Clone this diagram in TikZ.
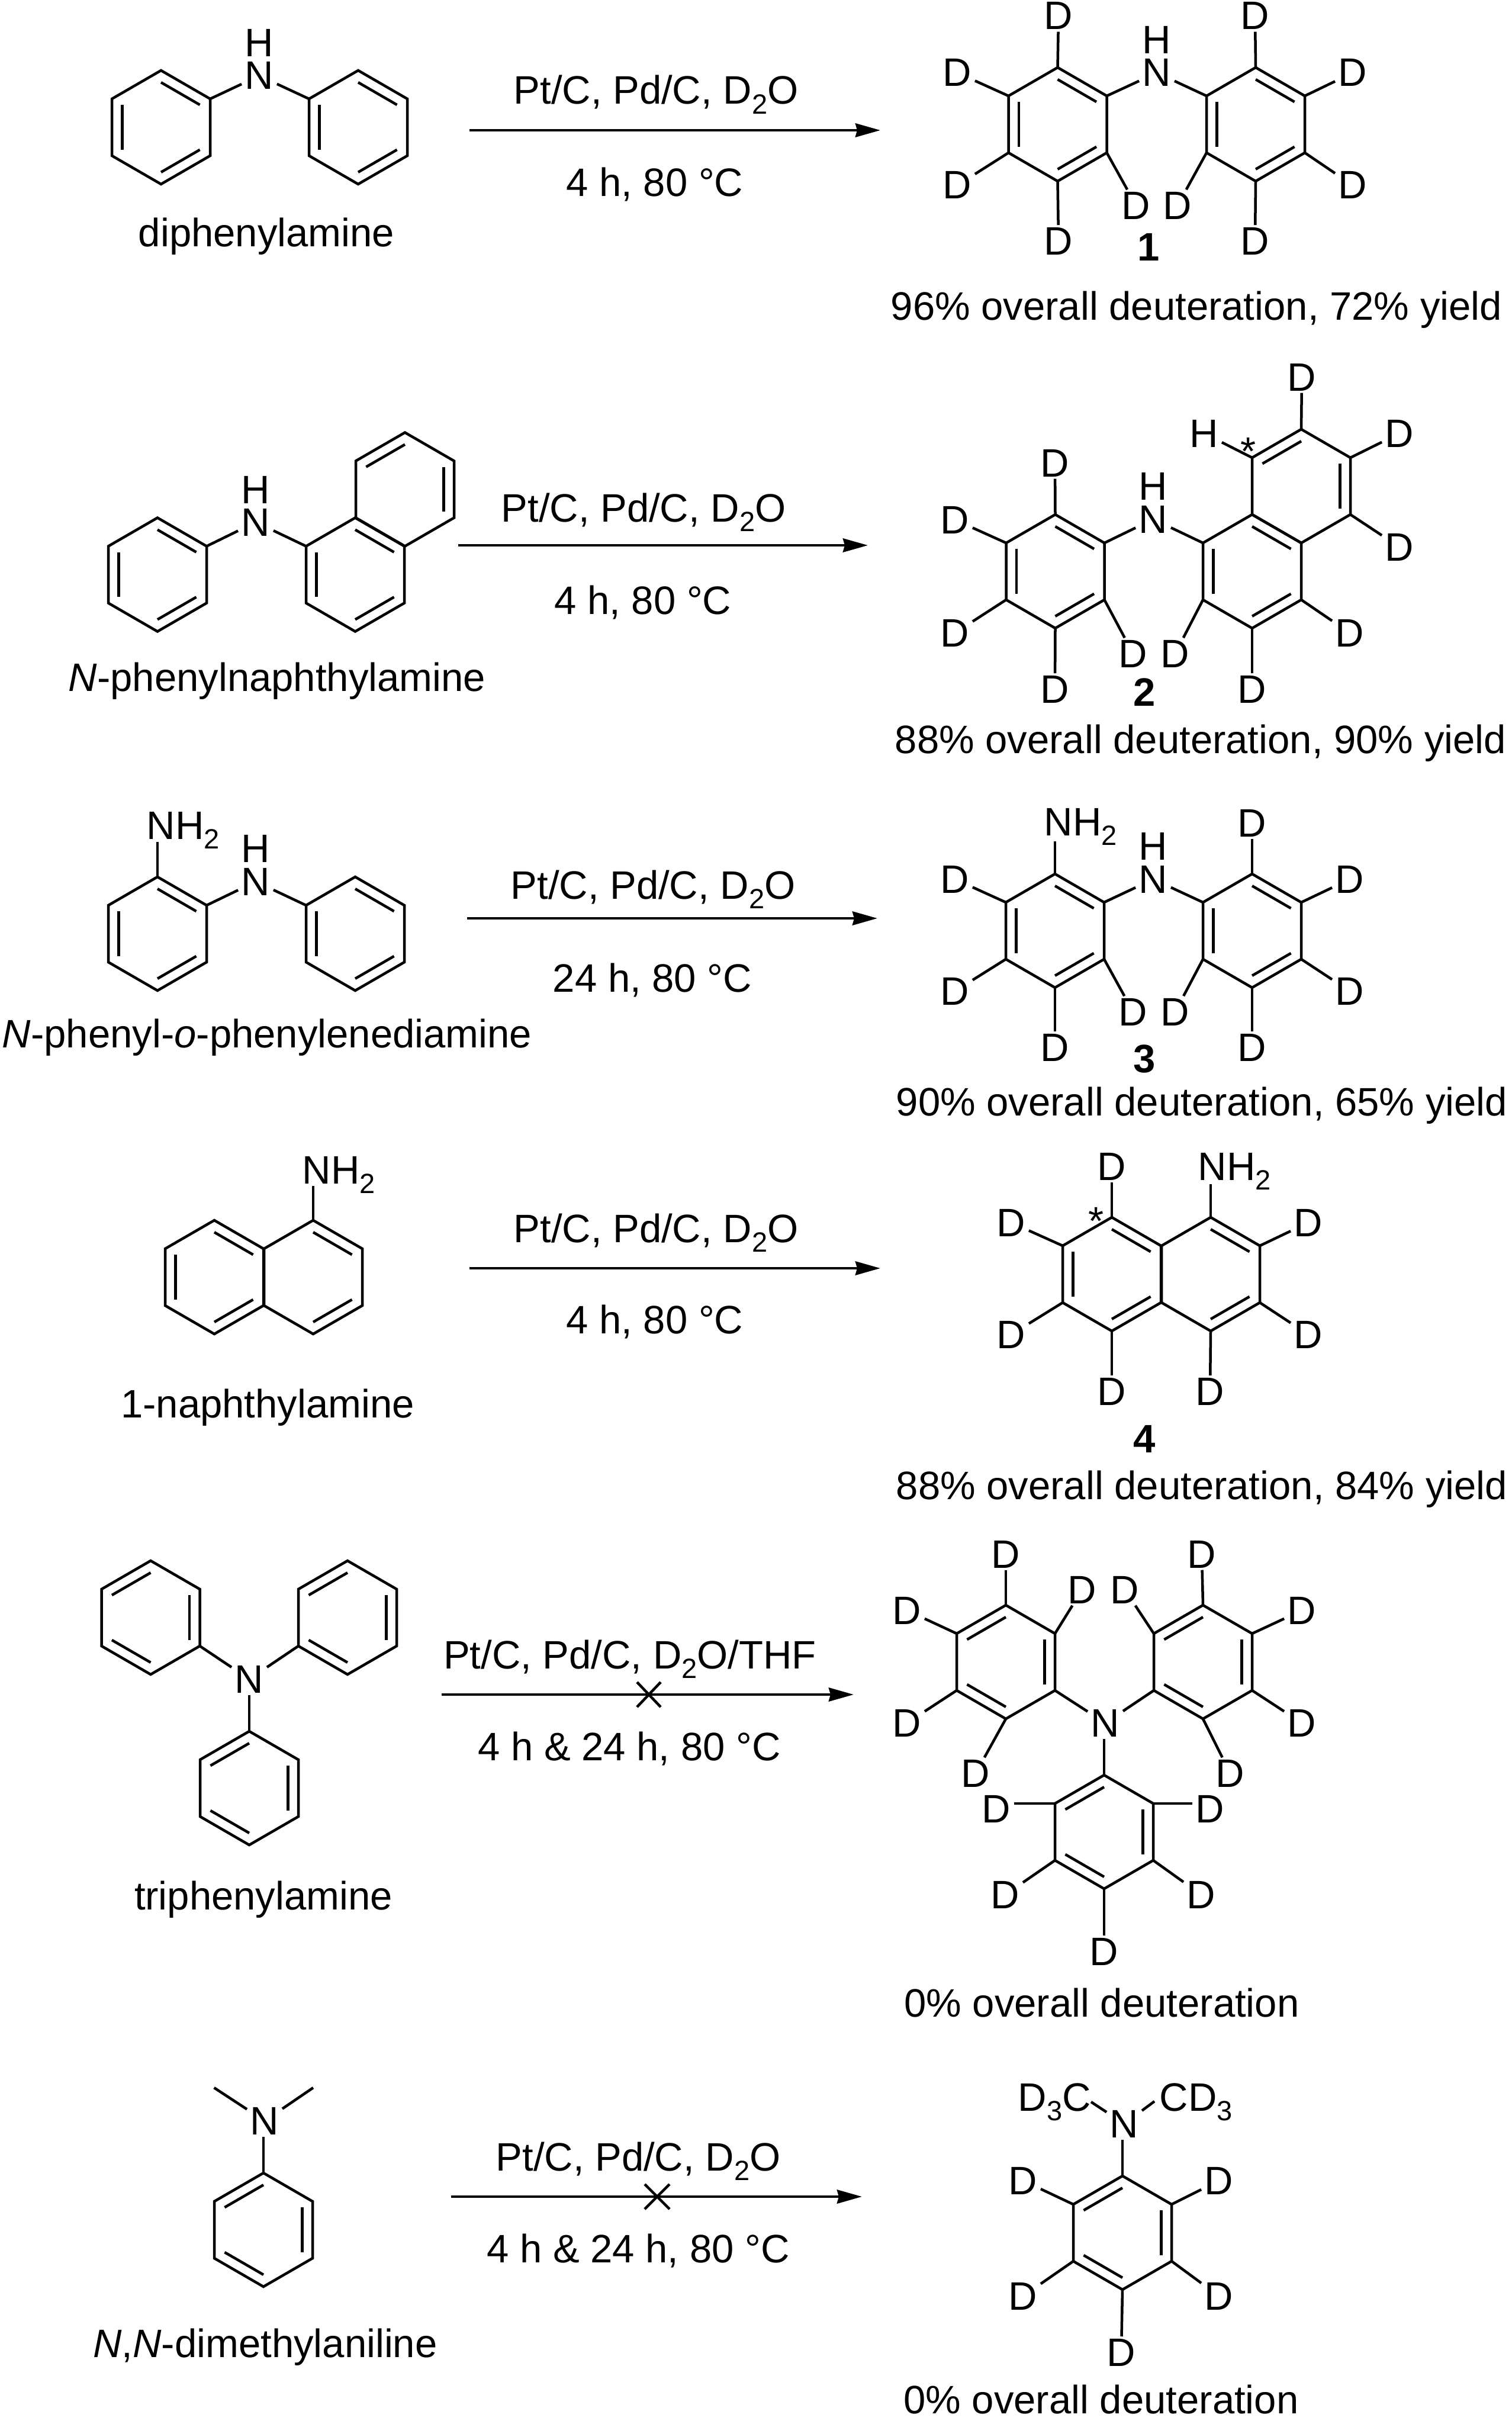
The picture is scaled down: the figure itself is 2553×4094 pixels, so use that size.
\documentclass[tikz,border=0pt]{standalone}
\usepackage{fontspec}
\setmainfont{Liberation Sans}
\usetikzlibrary{calc,arrows.meta}
\newcommand{\sbs}[1]{\raisebox{-0.16cm}{\fontsize{0.47cm}{0.5cm}\selectfont #1}\fontsize{0.67cm}{0.8cm}\selectfont}
\tikzset{
  x=0.01cm,y=-0.01cm,
  bond/.style={line width=0.045cm,line join=miter,line cap=butt,black},
  rxn/.style={line width=0.048cm,-{Stealth[length=0.42cm,width=0.23cm,inset=0.03cm]}},
  cross/.style={line width=0.045cm},
  txt/.style={anchor=base,inner sep=0pt,font=\fontsize{0.67cm}{0.8cm}\selectfont},
  txtw/.style={anchor=base west,inner sep=0pt,font=\fontsize{0.67cm}{0.8cm}\selectfont},
  atom/.style={anchor=base,inner xsep=0.05cm,inner ysep=0.03cm,font=\fontsize{0.67cm}{0.8cm}\selectfont},
}
% ring: name, cx, cy, list of double bonds
\newcommand{\ringat}[4]{%
  \coordinate (#1c) at (#2,#3);
  \coordinate (#11) at ($(#1c)+(0,-96)$);
  \coordinate (#12) at ($(#1c)+(83,-48)$);
  \coordinate (#13) at ($(#1c)+(83,48)$);
  \coordinate (#14) at ($(#1c)+(0,96)$);
  \coordinate (#15) at ($(#1c)+(-83,48)$);
  \coordinate (#16) at ($(#1c)+(-83,-48)$);
  \draw[bond] (#11)--(#12)--(#13)--(#14)--(#15)--(#16)--cycle;
  \foreach \p/\q in {#4}{\draw[bond] ($(#1\p)!0.21!(#1c)$) -- ($(#1\q)!0.21!(#1c)$);}
}
% substituent D on a ring vertex: vertex, x, baseline y
\newcommand{\subD}[3]{%
  \node[atom] (#1D) at (#2,#3) {D};
  \draw[bond] (#1) -- (#1D);
}
\begin{document}
\begin{tikzpicture}
\useasboundingbox (0,0) rectangle (2553,4094);
\fill[white] (0,0) rectangle (2553,4094);

% ---------- Row 1 ----------
\ringat{A}{272}{215}{1/2,3/4,5/6}
\ringat{B}{605}{215}{1/2,3/4,5/6}
\node[atom] (Na) at (438,151) {N};
\node[atom] (Ha) at (438,96) {H};
\draw[bond] (A2)--(Na);
\draw[bond] (B6)--(Na);
\node[txt] (name1) at (450,417) {diphenylamine};
\coordinate (r1s) at (793,220);
\coordinate (r1e) at (1487,220);
\draw[rxn] (r1s)--(r1e);
\node[txt] (r1t) at (1108,176) {Pt/C, Pd/C, D\sbs{2}O};
\node[txt] (r1b) at (1106,332) {4 h, 80 °C};
\ringat{C}{1786.5}{210}{1/2,3/4,5/6}
\ringat{D}{2121}{210}{1/2,3/4,5/6}
\node[atom] (Nb) at (1954,146) {N};
\node[atom] (Hb) at (1954,91) {H};
\draw[bond] (C2)--(Nb);
\draw[bond] (D6)--(Nb);
\subD{C1}{1788}{50}
\subD{C6}{1617}{146}
\subD{C5}{1617}{336}
\subD{C4}{1788}{430}
\subD{C3}{1919}{370}
\subD{D5}{1989}{370}
\subD{D1}{2120}{50}
\subD{D2}{2285}{146}
\subD{D3}{2285}{336}
\subD{D4}{2120}{430}
\node[txt] (cmp1) at (1940,441) {\textbf{1}};
\node[txt] (res1) at (2021,541) {96\% overall deuteration, 72\% yield};

% ---------- Row 2 ----------
\ringat{E}{266}{970.5}{1/2,3/4,5/6}
\ringat{F}{600}{970.5}{1/2,3/4,5/6}
\ringat{G}{684}{826.5}{6/1,2/3}
\node[atom] (Nc) at (432,905) {N};
\node[atom] (Hc) at (432,850) {H};
\draw[bond] (E2)--(Nc);
\draw[bond] (F6)--(Nc);
\node[txt] (name2) at (468,1167) {\textit{N}-phenylnaphthylamine};
\coordinate (r2s) at (774,921);
\coordinate (r2e) at (1466,921);
\draw[rxn] (r2s)--(r2e);
\node[txt] (r2t) at (1087,881) {Pt/C, Pd/C, D\sbs{2}O};
\node[txt] (r2b) at (1086,1037) {4 h, 80 °C};
\ringat{H}{1782.5}{965}{1/2,3/4,5/6}
\ringat{I}{2115}{965}{1/2,3/4,5/6}
\ringat{J}{2198}{821}{6/1,2/3}
\node[atom] (Nd) at (1948,900) {N};
\node[atom] (Hd) at (1948,844) {H};
\draw[bond] (H2)--(Nd);
\draw[bond] (I6)--(Nd);
\subD{H1}{1782}{805}
\subD{H6}{1613}{901}
\subD{H5}{1613}{1092}
\subD{H4}{1782}{1187}
\subD{H3}{1914}{1127}
\subD{I5}{1985}{1127}
\subD{I4}{2115}{1187}
\subD{I3}{2280}{1092}
\subD{J3}{2364}{947}
\subD{J2}{2364}{755}
\subD{J1}{2199}{660}
\node[atom] (J6H) at (2034,755) {H};
\draw[bond] (J6)--(J6H);
\node[txt] (stara) at (2109,785) {*};
\node[txt] (cmp2) at (1933,1192) {\textbf{2}};
\node[txt] (res2) at (2028,1272) {88\% overall deuteration, 90\% yield};

% ---------- Row 3 ----------
\ringat{K}{266}{1577}{1/2,3/4,5/6}
\ringat{L}{600}{1577}{1/2,3/4,5/6}
\node[atom] (Ne) at (432,1512) {N};
\node[atom] (He) at (432,1456) {H};
\draw[bond] (K2)--(Ne);
\draw[bond] (L6)--(Ne);
\node[txtw] (nh2a) at (247,1417) {NH\sbs{2}};
\coordinate (nh2ae) at (266,1422);
\draw[bond] (K1)--(nh2ae);
\node[txt] (name3) at (451,1769) {\textit{N}-phenyl-\textit{o}-phenylenediamine};
\coordinate (r3s) at (789,1551);
\coordinate (r3e) at (1482,1551);
\draw[rxn] (r3s)--(r3e);
\node[txt] (r3t) at (1103,1518) {Pt/C, Pd/C, D\sbs{2}O};
\node[txt] (r3b) at (1102,1675) {24 h, 80 °C};
\ringat{M}{1782}{1572}{1/2,3/4,5/6}
\ringat{P}{2115}{1572}{1/2,3/4,5/6}
\node[atom] (Nf) at (1948,1508) {N};
\node[atom] (Hf) at (1948,1452) {H};
\draw[bond] (M2)--(Nf);
\draw[bond] (P6)--(Nf);
\node[txtw] (nh2b) at (1763,1411) {NH\sbs{2}};
\coordinate (nh2be) at (1782,1421);
\draw[bond] (M1)--(nh2be);
\subD{M6}{1613}{1508}
\subD{M5}{1613}{1697}
\subD{M4}{1782}{1792}
\subD{M3}{1914}{1732}
\subD{P5}{1985}{1732}
\subD{P4}{2115}{1792}
\subD{P3}{2280}{1697}
\subD{P2}{2280}{1508}
\subD{P1}{2115}{1413}
\node[txt] (cmp3) at (1933,1811) {\textbf{3}};
\node[txt] (res3) at (2030,1884) {90\% overall deuteration, 65\% yield};

% ---------- Row 4 ----------
\ringat{Q}{362}{2157}{1/2,3/4,5/6}
\ringat{R}{529}{2157}{1/2,3/4}
\node[txtw] (nh2c) at (510,1999) {NH\sbs{2}};
\coordinate (nh2ce) at (529,2003);
\draw[bond] (R1)--(nh2ce);
\node[txt] (name4) at (452,2394) {1-naphthylamine};
\coordinate (r4s) at (793,2142);
\coordinate (r4e) at (1487,2142);
\draw[rxn] (r4s)--(r4e);
\node[txt] (r4t) at (1108,2098) {Pt/C, Pd/C, D\sbs{2}O};
\node[txt] (r4b) at (1106,2252) {4 h, 80 °C};
\ringat{S}{1878}{2152}{1/2,3/4,5/6}
\ringat{T}{2045}{2152}{1/2,3/4}
\node[txtw] (nh2d) at (2023,1993) {NH\sbs{2}};
\coordinate (nh2de) at (2045,2000);
\draw[bond] (T1)--(nh2de);
\subD{S1}{1878}{1993}
\subD{S6}{1708}{2088}
\subD{S5}{1708}{2277}
\subD{S4}{1878}{2373}
\subD{T4}{2044}{2373}
\subD{T3}{2210}{2277}
\subD{T2}{2210}{2088}
\node[txt] (starb) at (1852,2085) {*};
\node[txt] (cmp4) at (1933,2453) {\textbf{4}};
\node[txt] (res4) at (2030,2532) {88\% overall deuteration, 84\% yield};

% ---------- Row 5 ----------
\ringat{U}{254.5}{2732}{6/1,2/3,4/5}
\ringat{V}{587}{2732}{6/1,2/3,4/5}
\ringat{W}{421}{3020}{6/1,2/3,4/5}
\node[atom] (Ng) at (421,2859) {N};
\draw[bond] (U3)--(Ng);
\draw[bond] (V5)--(Ng);
\draw[bond] (W1)--(Ng);
\node[txt] (name5) at (445,3225) {triphenylamine};
\coordinate (r5s) at (746,2862);
\coordinate (r5e) at (1442,2862);
\draw[rxn] (r5s)--(r5e);
\coordinate (x5) at (1096,2862);
\draw[cross] ($(x5)+(-20,-21)$)--($(x5)+(20,21)$);
\draw[cross] ($(x5)+(20,-21)$)--($(x5)+(-20,21)$);
\node[txt] (r5t) at (1064,2818) {Pt/C, Pd/C, D\sbs{2}O/THF};
\node[txt] (r5b) at (1063,2973) {4 h \& 24 h, 80 °C};
\ringat{X}{1699}{2807}{6/1,2/3,4/5}
\ringat{Y}{2032}{2807}{6/1,2/3,4/5}
\ringat{Z}{1865}{3094}{6/1,2/3,4/5}
\node[atom] (Nh) at (1867,2933) {N};
\draw[bond] (X3)--(Nh);
\draw[bond] (Y5)--(Nh);
\draw[bond] (Z1)--(Z1 |- Nh.south);
\subD{X1}{1699}{2648}
\subD{X2}{1828}{2708}
\subD{X6}{1532}{2743}
\subD{X5}{1532}{2933}
\subD{X4}{1648}{3018}
\subD{Y1}{2030}{2648}
\subD{Y6}{1900}{2708}
\subD{Y2}{2199}{2743}
\subD{Y3}{2199}{2933}
\subD{Y4}{2078}{3018}
\node[atom] (Z6D) at (1683,3078) {D};
\draw[bond] (Z6)--(Z6D.east |- Z6);
\node[atom] (Z2D) at (2044,3078) {D};
\draw[bond] (Z2)--(Z2D.west |- Z2);
\subD{Z5}{1698}{3223}
\subD{Z3}{2029}{3223}
\subD{Z4}{1865}{3319}
\node[txt] (res5) at (1861,3406) {0\% overall deuteration};

% ---------- Row 6 ----------
\ringat{a}{445}{3766}{6/1,2/3,4/5}
\node[atom] (Ni) at (447,3605) {N};
\draw[bond] (a1)--(a1 |- Ni.south);
\coordinate (mea) at (361.6,3526);
\coordinate (meb) at (529,3526);
\draw[bond] (mea)--(Ni);
\draw[bond] (meb)--(Ni);
\node[txt] (name6) at (448,3981) {\textit{N},\textit{N}-dimethylaniline};
\coordinate (r6s) at (762,3710);
\coordinate (r6e) at (1456,3710);
\draw[rxn] (r6s)--(r6e);
\coordinate (x6) at (1110,3710);
\draw[cross] ($(x6)+(-21,-21)$)--($(x6)+(21,21)$);
\draw[cross] ($(x6)+(21,-21)$)--($(x6)+(-21,21)$);
\node[txt] (r6t) at (1078,3666) {Pt/C, Pd/C, D\sbs{2}O};
\node[txt] (r6b) at (1078,3821) {4 h \& 24 h, 80 °C};
\ringat{b}{1896}{3771}{6/1,2/3,4/5}
\node[atom] (Nj) at (1899,3610) {N};
\draw[bond] (b1)--(b1 |- Nj.south);
\node[txtw] (dcl) at (1719,3565) {D\sbs{3}C};
\node[txtw] (dcr) at (1958,3565) {CD\sbs{3}};
\coordinate (dcle) at (1843,3550);
\coordinate (dcre) at (1950,3549);
\draw[bond] (dcle)--(Nj);
\draw[bond] (dcre)--(Nj);
\subD{b6}{1728}{3706}
\subD{b5}{1728}{3901}
\subD{b2}{2059}{3706}
\subD{b3}{2059}{3901}
\subD{b4}{1894}{3996}
\node[txt] (res6) at (1860,4076) {0\% overall deuteration};
\end{tikzpicture}
\end{document}
